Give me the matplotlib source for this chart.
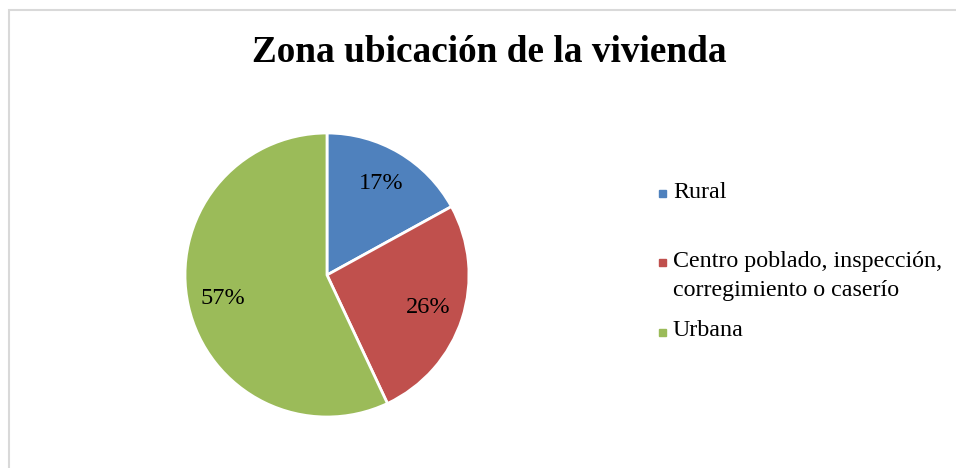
import matplotlib.pyplot as plt
from matplotlib.patches import Rectangle

# Data
labels = ['Rural', 'Centro poblado, inspección,\ncorregimiento o caserío', 'Urbana']
shares = [17, 26, 57]
colors = ['#4F81BD', '#C0504D', '#9BBB59']

plt.rcParams['font.family'] = ['Liberation Serif', 'DejaVu Serif']

W, H = 956, 468
fig = plt.figure(figsize=(W / 100, H / 100), dpi=100)

# light chart border (only top and left visible in the crop)
fig.add_artist(Rectangle((9 / W, -0.1), 1.2, (H - 10) / H + 0.1, transform=fig.transFigure,
                         fill=False, edgecolor='#D9D9D9', linewidth=1.5))

fig.text(489 / W, 1 - 52 / H, 'Zona ubicación de la vivienda', ha='center', va='center',
         fontsize=26.8, fontweight='bold')

# pie axes: centre (327, 275), radius 142 px
cx, cy, r = 327, 275, 142
ax = fig.add_axes([(cx - r) / W, 1 - (cy + r) / H, 2 * r / W, 2 * r / H])
wedges, _, autotexts = ax.pie(shares, colors=colors, startangle=90, counterclock=False,
                              autopct='%1.0f%%', pctdistance=0.75,
                              wedgeprops=dict(edgecolor='white', linewidth=2))
for t in autotexts:
    t.set_fontsize(17.5)
ax.set_xlim(-1, 1)
ax.set_ylim(-1, 1)
ax.set_aspect('equal')

# legend drawn by hand to keep Excel's uneven spacing
text_y = [192, 276, 330]
mark_y = [193, 262, 332]
for lab, col, ty, my in zip(labels, colors, text_y, mark_y):
    fig.add_artist(Rectangle((659 / W, 1 - (my + 3.5) / H), 7 / W, 7 / H,
                             transform=fig.transFigure, color=col))
    fig.text(673 / W, 1 - ty / H, lab, ha='left', va='center', fontsize=17.3, linespacing=1.5)

fig.savefig('out.png', dpi=100)
